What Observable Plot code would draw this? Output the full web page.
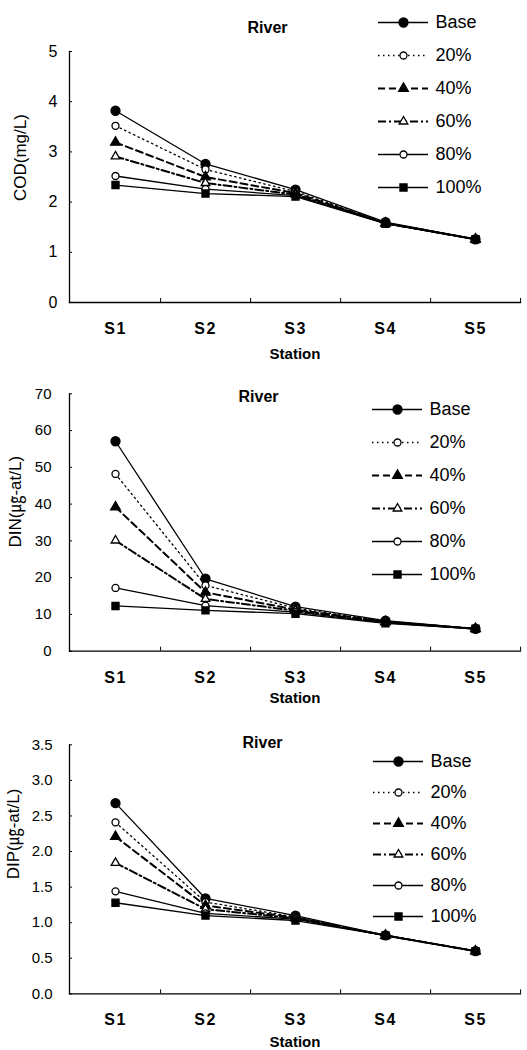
<!DOCTYPE html>
<html><head><meta charset="utf-8">
<script src="https://cdn.jsdelivr.net/npm/d3@7"></script>
<script src="https://cdn.jsdelivr.net/npm/@observablehq/plot@0.6"></script>
<style>
body{margin:0;background:#fff;}
#root{position:relative;width:527px;height:1050px;font-family:"Liberation Sans","Noto Sans CJK KR",sans-serif;}
.panel,.legend{position:absolute;}
svg{background:transparent !important;}
g[aria-label="x-axis tick label"] text{letter-spacing:1.5px;}
</style></head><body><div id="root"></div>
<script>
// ---- data ----
const stations = ["S1","S2","S3","S4","S5"];
const scenarios = ["Base","20%","40%","60%","80%","100%"];

const codBase = [3.82,2.76,2.25,1.60,1.26];
const cod20   = [3.52,2.65,2.21,1.59,1.26];
const cod40   = [3.19,2.50,2.18,1.58,1.26];
const cod60   = [2.91,2.38,2.15,1.58,1.26];
const cod80   = [2.52,2.26,2.13,1.57,1.26];
const cod100  = [2.34,2.17,2.11,1.57,1.26];

const dinBase = [57.1,19.7,12.1,8.3,6.1];
const din20   = [48.2,17.9,11.7,8.1,6.1];
const din40   = [39.2,16.0,11.3,8.0,6.1];
const din60   = [30.1,14.2,11.0,7.9,6.1];
const din80   = [17.2,12.4,10.6,7.7,6.1];
const din100  = [12.3,11.1,10.2,7.6,6.1];

const dipBase = [2.68,1.34,1.10,0.82,0.60];
const dip20   = [2.41,1.29,1.08,0.82,0.60];
const dip40   = [2.21,1.24,1.07,0.82,0.60];
const dip60   = [1.84,1.19,1.06,0.82,0.60];
const dip80   = [1.44,1.13,1.05,0.82,0.60];
const dip100  = [1.28,1.10,1.03,0.82,0.60];

const codTicks = [0,1,2,3,4,5];
const dinTicks = [0,10,20,30,40,50,60,70];
const dipTicks = [0,0.5,1.0,1.5,2.0,2.5,3.0,3.5];

const titleText = "River";
const xTitle = "Station";
const yTitles = ["COD(mg/L)","DIN(㎍-at/L)","DIP(㎍-at/L)"];

// ---- styles ----
const styles = {
  "Base": {dash: null, sw: 1.3, symbol: "circle", fill: "black", r: 4.5},
  "20%":  {dash: "1.5,3.5", sw: 1.3, symbol: "circle", fill: "white", r: 3.5},
  "40%":  {dash: "7,4", sw: 2, symbol: "triangle", fill: "black", r: 3.6},
  "60%":  {dash: "8,3,2,3", sw: 2, symbol: "triangle", fill: "white", r: 3.2},
  "80%":  {dash: null, sw: 1.3, symbol: "circle", fill: "white", r: 3.5},
  "100%": {dash: null, sw: 1.3, symbol: "square", fill: "black", r: 4}
};

const panels = [
  {series:[codBase,cod20,cod40,cod60,cod80,cod100], ticks: codTicks, fmt: d3.format("d"), max: 5,
   top: 0, height: 370, mt: 51, mb: 68, tp: 15, fs: 16, tdx: -27.5, tdy: -30, ydx: -49, ydy: 24, sdy: 56,
   legTop: 22, legStep: 33, legLeft: 378, ylabel: yTitles[0]},
  {series:[dinBase,din20,din40,din60,din80,din100], ticks: dinTicks, fmt: d3.format("d"), max: 70,
   top: 370, height: 340, mt: 23.3, mb: 59.3, tp: 21, fs: 15, tdx: -36.5, tdy: -3, ydx: -54, ydy: 25, sdy: 52,
   legTop: 409, legStep: 33, legLeft: 372, ylabel: yTitles[1]},
  {series:[dipBase,dip20,dip40,dip60,dip80,dip100], ticks: dipTicks, fmt: d3.format(".1f"), max: 3.5,
   top: 710, height: 340, mt: 34.3, mb: 56.7, tp: 20, fs: 15, tdx: -32.5, tdy: -8, ydx: -56, ydy: 10, sdy: 53,
   legTop: 759, legStep: 31.6, legLeft: 373, ylabel: yTitles[2]}
];

const root = document.getElementById("root");
const W = 527, ML = 69, MR = 7;
const bw = (W - ML - MR) / stations.length;
const font = '"Liberation Sans","Noto Sans CJK KR",sans-serif';

panels.forEach(p => {
  const lineMarks = [], dotMarks = [];
  scenarios.forEach((name, k) => {
    const st = styles[name];
    const rows = stations.map((s, i) => ({station: s, value: p.series[k][i], scenario: name}));
    lineMarks.push(Plot.line(rows, {x: "station", y: "value", stroke: "black", strokeWidth: st.sw,
      strokeDasharray: st.dash || undefined}));
    dotMarks.push(Plot.dot(rows, {x: "station", y: "value", symbol: () => st.symbol, r: st.r,
      fill: st.fill, stroke: "black", strokeWidth: 1.3}));
  });
  const chart = Plot.plot({
    width: W, height: p.height,
    marginLeft: ML, marginRight: MR, marginTop: p.mt, marginBottom: p.mb,
    style: {fontFamily: font, color: "black", background: "transparent", overflow: "visible"},
    x: {type: "band", domain: stations, padding: 0, axis: null},
    y: {domain: [0, p.max], axis: null},
    symbol: {type: "identity"},
    marks: [
      Plot.frame({anchor: "left", strokeWidth: 1.3}),
      Plot.frame({anchor: "bottom", strokeWidth: 1.3}),
      Plot.axisY({ticks: p.ticks, tickSize: -3, tickPadding: p.tp, fontSize: p.fs, tickFormat: p.fmt, label: null}),
      Plot.axisX({tickSize: 0, tickPadding: 20, fontSize: 16, fontWeight: "bold", label: null}),
      Plot.axisX({tickSize: -4, dx: bw / 2, tickFormat: () => "", label: null, ariaLabel: "x-boundary"}),
      ...lineMarks,
      ...dotMarks,
      Plot.text([titleText], {frameAnchor: "top", dx: p.tdx, dy: p.tdy, fontWeight: "bold", fontSize: 16}),
      Plot.text([p.ylabel], {frameAnchor: "left", rotate: -90, dx: p.ydx, dy: p.ydy, fontSize: 17}),
      Plot.text([xTitle], {frameAnchor: "bottom", dy: p.sdy, fontWeight: "bold", fontSize: 15})
    ]
  });
  const div = document.createElement("div");
  div.className = "panel";
  div.style.top = p.top + "px";
  div.style.left = "0px";
  div.appendChild(chart);
  root.appendChild(div);

  // legend
  const lm = 10;
  const legMarks = [];
  scenarios.forEach(name => {
    const st = styles[name];
    legMarks.push(Plot.ruleY([name], {y: d => d, x1: 0, x2: 1, stroke: "black", strokeWidth: st.sw,
      strokeDasharray: st.dash || undefined}));
    legMarks.push(Plot.dot([name], {x: 0.5, y: d => d, symbol: () => st.symbol, r: st.r,
      fill: st.fill, stroke: "black", strokeWidth: 1.3}));
    legMarks.push(Plot.text([name], {x: 1, y: d => d, dx: 7, textAnchor: "start", fontSize: 18}));
  });
  const legend = Plot.plot({
    width: 130, height: lm * 2 + p.legStep * (scenarios.length - 1),
    marginLeft: 0, marginRight: 80, marginTop: lm, marginBottom: lm,
    style: {fontFamily: font, color: "black", background: "transparent", overflow: "visible"},
    x: {domain: [0, 1], axis: null},
    y: {type: "point", domain: scenarios, padding: 0, axis: null},
    symbol: {type: "identity"},
    marks: legMarks
  });
  const ld = document.createElement("div");
  ld.className = "legend";
  ld.style.top = (p.legTop - lm) + "px";
  ld.style.left = p.legLeft + "px";
  ld.appendChild(legend);
  root.appendChild(ld);
});
</script></body></html>
